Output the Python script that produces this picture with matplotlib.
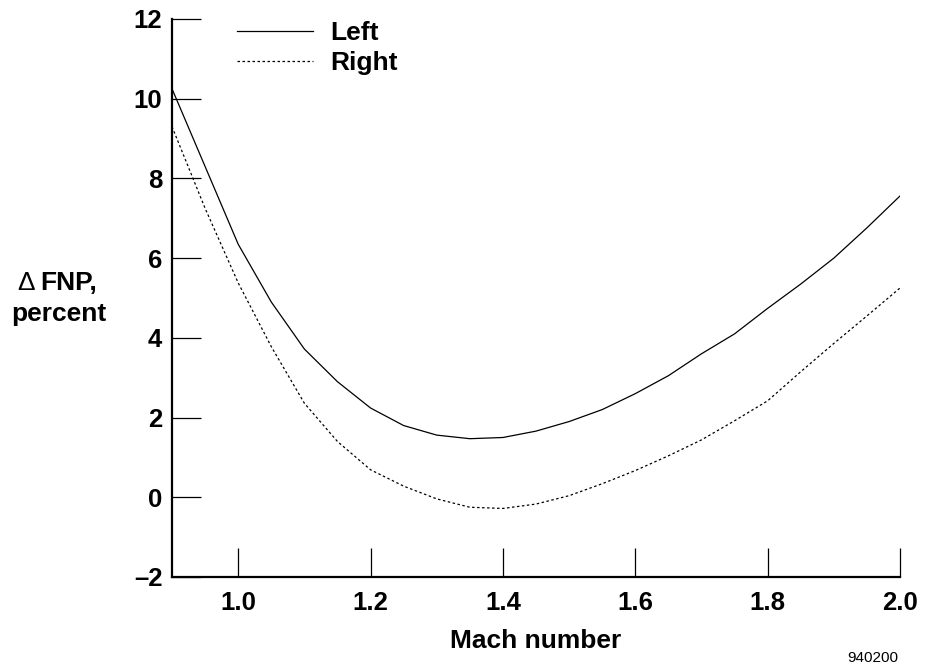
import numpy as np
import matplotlib
matplotlib.use("Agg")
import matplotlib.pyplot as plt

plt.rcParams['font.family'] = ['Liberation Sans', 'DejaVu Sans']

# Mach number sample points
mach = [0.90, 0.95, 1.00, 1.05, 1.10, 1.15, 1.20, 1.25, 1.30, 1.35, 1.40, 1.45,
        1.50, 1.55, 1.60, 1.65, 1.70, 1.75, 1.80, 1.85, 1.90, 1.95, 2.00]

# delta FNP, percent
fnp_left = [10.25, 8.30, 6.35, 4.90, 3.72, 2.90, 2.24, 1.80, 1.56, 1.47, 1.50, 1.66,
            1.90, 2.20, 2.60, 3.05, 3.60, 4.10, 4.74, 5.35, 6.00, 6.76, 7.56]
fnp_right = [9.30, 7.25, 5.38, 3.78, 2.36, 1.40, 0.69, 0.28, -0.04, -0.25, -0.28, -0.17,
             0.04, 0.34, 0.67, 1.04, 1.44, 1.92, 2.42, 3.15, 3.86, 4.55, 5.25]

xticks = [1.0, 1.2, 1.4, 1.6, 1.8, 2.0]
xtick_labels = ["1.0", "1.2", "1.4", "1.6", "1.8", "2.0"]
yticks = [-2, 0, 2, 4, 6, 8, 10, 12]
ytick_labels = ["\u20132", "0", "2", "4", "6", "8", "10", "12"]

W, H = 925, 666
fig = plt.figure(figsize=(W/100, H/100), dpi=100)
ax = fig.add_axes([172/W, 89/H, 728/W, 558/H])

ax.plot(mach, fnp_left, color='black', lw=0.9, label='Left')
ax.plot(mach, fnp_right, color='black', lw=0.9, linestyle=(0, (2, 2)), label='Right')

ax.set_xlim(0.9, 2.0)
ax.set_ylim(-2, 12)
for s in ['top', 'right']:
    ax.spines[s].set_visible(False)
for s in ['left', 'bottom']:
    ax.spines[s].set_linewidth(1.6)

ax.set_xticks(xticks)
ax.set_xticklabels(xtick_labels)
ax.set_yticks(yticks)
ax.set_yticklabels(ytick_labels)
ax.tick_params(direction='in', length=21, width=0.9, labelsize=18.5)
ax.tick_params(axis='x', pad=10)
ax.tick_params(axis='y', pad=7)
for lab in ax.get_xticklabels() + ax.get_yticklabels():
    lab.set_fontweight('bold')

# axis titles, placed in figure pixels
fig.text(536/W, 1 - 648/H, "Mach number", fontsize=19, fontweight='bold',
         ha='center', va='baseline')
fig.text(17/W, 1 - 290.5/H, "\u0394", fontsize=19, ha='left', va='baseline')
fig.text(40/W, 1 - 290.5/H, "FNP,", fontsize=19, fontweight='bold', ha='left', va='baseline')
fig.text(59/W, 1 - 321.5/H, "percent", fontsize=19, fontweight='bold', ha='center', va='baseline')

leg = ax.legend(loc='upper left', bbox_to_anchor=(0.089, 0.996), frameon=False,
                handlelength=2.9, handletextpad=0.65, labelspacing=0.22,
                borderpad=0, borderaxespad=0,
                prop={'size': 19, 'weight': 'bold'})

fig.text(898/W, 1 - 661.5/H, "940200", fontsize=11, ha='right', va='baseline')

fig.savefig("out.png", dpi=100)
